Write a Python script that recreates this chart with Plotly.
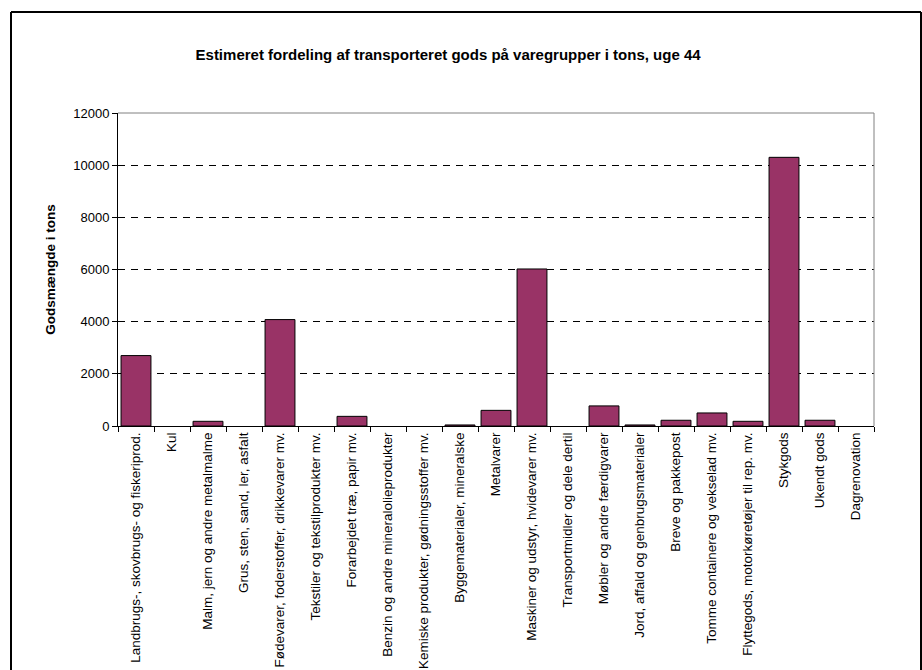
import plotly.graph_objects as go

# Goods categories (varegrupper) and estimated tonnage, week 44
categories = [
    "Landbrugs-, skovbrugs- og fiskeriprod.",
    "Kul",
    "Malm, jern og andre metalmalme",
    "Grus, sten, sand, ler, asfalt",
    "Fødevarer, foderstoffer, drikkevarer mv.",
    "Tekstiler og tekstilprodukter mv.",
    "Forarbejdet træ, papir mv.",
    "Benzin og andre mineralolieprodukter",
    "Kemiske produkter, gødningsstoffer mv.",
    "Byggematerialer, mineralske",
    "Metalvarer",
    "Maskiner og udstyr, hvidevarer mv.",
    "Transportmidler og dele dertil",
    "Møbler og andre færdigvarer",
    "Jord, affald og genbrugsmaterialer",
    "Breve og pakkepost",
    "Tomme containere og vekselad mv.",
    "Flyttegods, motorkøretøjer til rep. mv.",
    "Stykgods",
    "Ukendt gods",
    "Dagrenovation",
]
tons = [2700, 0, 180, 0, 4080, 0, 370, 0, 0, 40, 600,
        6020, 0, 770, 40, 220, 500, 180, 10300, 220, 0]

y_ticks = [0, 2000, 4000, 6000, 8000, 10000, 12000]
y_tick_labels = ["0", "2000", "4000", "6000", "8000", "10000", "12000"]

FONT = "Liberation Sans, Arial, sans-serif"

# empty categories get no outline so nothing is drawn for them
outline_widths = [1 if v > 0 else 0 for v in tons]

fig = go.Figure(
    go.Bar(
        x=categories,
        y=tons,
        marker=dict(color="#993366",
                    line=dict(color="#000000", width=outline_widths)),
        width=0.83,
        hoverinfo="x+y",
    )
)

fig.update_layout(
    width=922,
    height=670,
    margin=dict(l=118, r=48, t=113, b=244),
    paper_bgcolor="white",
    plot_bgcolor="white",
    showlegend=False,
    font=dict(family=FONT, size=12, color="black"),
    title=dict(
        text="<b>Estimeret fordeling af transporteret gods på varegrupper i tons, uge 44</b>",
        x=0.486,
        xanchor="center",
        y=1 - 55 / 670,
        yanchor="middle",
        font=dict(family=FONT, size=15, color="black"),
    ),
)

fig.update_xaxes(
    type="category",
    automargin=False,
    tickson="boundaries",
    ticks="outside",
    ticklen=5,
    tickcolor="black",
    tickangle=-90,
    tickfont=dict(family=FONT, size=13.5, color="black"),
    showline=True,
    linecolor="black",
    linewidth=1,
    showgrid=False,
)

fig.update_yaxes(
    automargin=False,
    range=[0, 12000],
    tickvals=y_ticks,
    ticktext=y_tick_labels,
    ticks="outside",
    ticklen=5,
    tickcolor="black",
    tickfont=dict(family=FONT, size=13, color="black"),
    showline=True,
    linecolor="black",
    linewidth=1,
    showgrid=True,
    gridcolor="black",
    gridwidth=1,
    griddash="7px,6px",
    zeroline=False,
    title=dict(
        text="<b>Godsmængde i tons</b>",
        font=dict(family=FONT, size=13.5, color="black"),
        standoff=14,
    ),
)

# grey top and right edges of the plotting area
fig.add_shape(type="line", xref="paper", yref="paper", x0=0, x1=1, y0=1, y1=1,
              line=dict(color="#808080", width=1), layer="above")
fig.add_shape(type="line", xref="paper", yref="paper", x0=1, x1=1, y0=0, y1=1,
              line=dict(color="#808080", width=1), layer="above")

# outer chart frame
frame = dict(color="black", width=2)
left, top, right = 11, 12, 921
fig.add_shape(type="line", xref="paper", yref="paper",
              x0=(left - 118) / 756, x1=(left - 118) / 756,
              y0=(426 - 670) / 313, y1=(426 - top) / 313, line=frame)
fig.add_shape(type="line", xref="paper", yref="paper",
              x0=(left - 118) / 756, x1=(right - 118) / 756,
              y0=(426 - top) / 313, y1=(426 - top) / 313, line=frame)
fig.add_shape(type="line", xref="paper", yref="paper",
              x0=(right - 118) / 756, x1=(right - 118) / 756,
              y0=(426 - 670) / 313, y1=(426 - top) / 313, line=frame)

fig.write_html("out.html")
